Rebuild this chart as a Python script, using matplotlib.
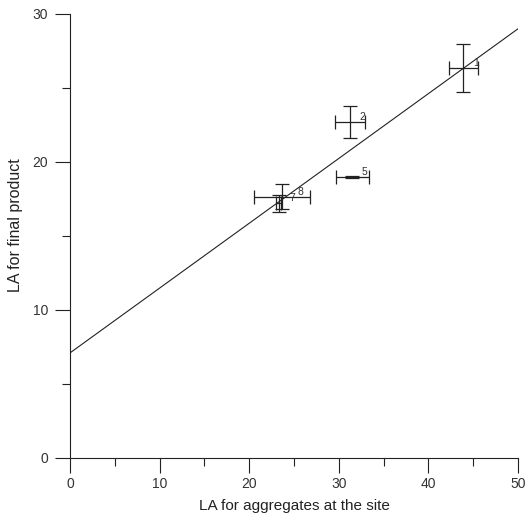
import numpy as np
import matplotlib
matplotlib.use("Agg")
import matplotlib.pyplot as plt
from matplotlib.ticker import MultipleLocator

plt.rcParams['font.family'] = ['Liberation Sans', 'DejaVu Sans']

# sample points
labels = ['1', '2', '5', '7', '8']
x = [43.9, 31.25, 31.5, 23.3, 23.65]
y = [26.35, 22.7, 19.0, 17.2, 17.65]
xerr = [1.6, 1.65, 1.85, 0.3, 3.15]
yerr = [1.6, 1.05, 0.05, 0.55, 0.85]

# fitted line
fit_intercept = 7.1
fit_slope = 0.438

fig = plt.figure(figsize=(5.26, 5.26), dpi=100)
ax = fig.add_axes([0.1331, 0.1293, 0.8517, 0.8441])

xs = np.array([0, 50])
ax.plot(xs, fit_intercept + fit_slope * xs, color='#222222', lw=0.8)

ax.errorbar(x, y, xerr=xerr, yerr=yerr, fmt='none', ecolor='#222222',
            elinewidth=0.9, capsize=4.7, capthick=0.9)

label_dx = [7, 7, 7, 8, 11]
for lab, xi, yi, dx in zip(labels, x, y, label_dx):
    ax.annotate(lab, (xi, yi), xytext=(dx, 0), textcoords='offset points',
                fontsize=7.5, color='#333333', va='bottom', ha='left')

ax.set_xlim(0, 50)
ax.set_ylim(0, 30)
ax.xaxis.set_major_locator(MultipleLocator(10))
ax.xaxis.set_minor_locator(MultipleLocator(5))
ax.yaxis.set_major_locator(MultipleLocator(10))
ax.yaxis.set_minor_locator(MultipleLocator(5))

for side in ['top', 'right']:
    ax.spines[side].set_visible(False)
for side in ['left', 'bottom']:
    ax.spines[side].set_linewidth(0.8)
    ax.spines[side].set_color('#222222')

ax.tick_params(which='major', length=10.8, width=0.8, color='#222222',
               labelsize=10, labelcolor='#333333')
ax.tick_params(which='minor', length=5.8, width=0.8, color='#222222')
ax.tick_params(axis='x', which='major', pad=3)
ax.tick_params(axis='y', which='major', pad=5)

ax.set_xlabel('LA for aggregates at the site', fontsize=11, color='#222222', labelpad=6)
ax.set_ylabel('LA for final product', fontsize=11.5, color='#222222')
ax.yaxis.set_label_coords(-0.105, 0.525)

fig.savefig('out.png', dpi=100)
